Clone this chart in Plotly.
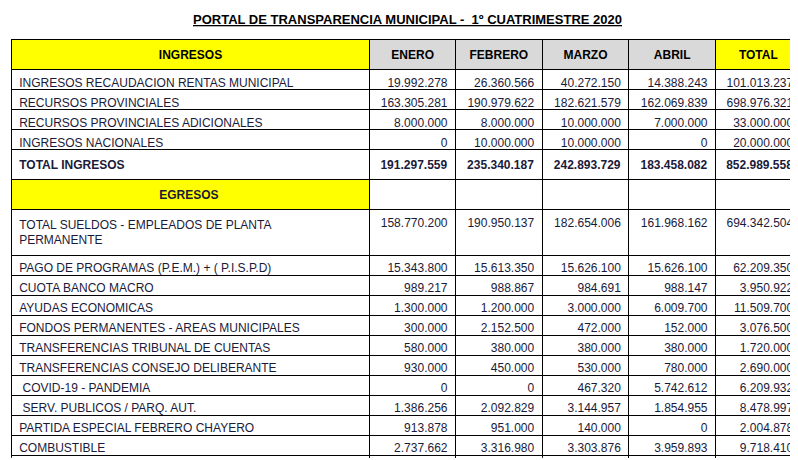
import plotly.graph_objects as go

labels = ["INGRESOS RECAUDACION RENTAS MUNICIPAL", "RECURSOS PROVINCIALES",
          "RECURSOS PROVINCIALES ADICIONALES", "INGRESOS NACIONALES", "<b>TOTAL INGRESOS</b>",
          "<b>                                          EGRESOS</b>",
          "TOTAL SUELDOS - EMPLEADOS DE PLANTA PERMANENTE", "PAGO DE PROGRAMAS (P.E.M.) + ( P.I.S.P.D)",
          "CUOTA BANCO MACRO", "AYUDAS ECONOMICAS", "FONDOS PERMANENTES - AREAS MUNICIPALES",
          "TRANSFERENCIAS TRIBUNAL DE CUENTAS", "TRANSFERENCIAS CONSEJO DELIBERANTE",
          " COVID-19 - PANDEMIA", " SERV. PUBLICOS / PARQ. AUT.", "PARTIDA ESPECIAL FEBRERO CHAYERO",
          "COMBUSTIBLE", "PAGO A PROVEEDORES VARIOS POR EXP.", "<b>TOTAL EGRESOS</b>", "SALDO"]
enero = ["19.992.278", "163.305.281", "8.000.000", "0", "<b>191.297.559</b>", "",
         "158.770.200", "15.343.800", "989.217", "1.300.000", "300.000", "580.000", "930.000",
         "0", "1.386.256", "913.878", "2.737.662", "3.266.350", "<b>186.517.363</b>", "<b>4.780.196</b>"]
febrero = ["26.360.566", "190.979.622", "8.000.000", "10.000.000", "<b>235.340.187</b>", "",
           "190.950.137", "15.613.350", "988.867", "1.200.000", "2.152.500", "380.000", "450.000",
           "0", "2.092.829", "951.000", "3.316.980", "6.620.177", "<b>224.715.839</b>", "<b>10.624.348</b>"]
marzo = ["40.272.150", "182.621.579", "10.000.000", "10.000.000", "<b>242.893.729</b>", "",
         "182.654.006", "15.626.100", "984.691", "3.000.000", "472.000", "380.000", "530.000",
         "467.320", "3.144.957", "140.000", "3.303.876", "13.051.145", "<b>223.754.095</b>", "<b>19.139.634</b>"]
abril = ["14.388.243", "162.069.839", "7.000.000", "0", "<b>183.458.082</b>", "",
         "161.968.162", "15.626.100", "988.147", "6.009.700", "152.000", "380.000", "780.000",
         "5.742.612", "1.854.955", "0", "3.959.893", "17.238.606", "<b>214.700.173</b>", "<b>-31.242.091</b>"]
total = ["101.013.237", "698.976.321", "33.000.000", "20.000.000", "<b>852.989.558</b>", "",
         "694.342.504", "62.209.350", "3.950.922", "11.509.700", "3.076.500", "1.720.000", "2.690.000",
         "6.209.932", "8.478.997", "2.004.878", "9.718.410", "29.776.277", "<b>849.687.470</b>", "<b>3.302.088</b>"]
headers = ["<b>INGRESOS</b>", "<b>ENERO</b>", "<b>FEBRERO</b>", "<b>MARZO</b>", "<b>ABRIL</b>", "<b>TOTAL</b>"]

n = len(labels)
label_fill = ["#ffff00" if i == 5 else "white" for i in range(n)]
white = ["white"] * n
font = dict(family="Liberation Sans, Arial, sans-serif", size=12, color="#1a1a3a")

fig = go.Figure(go.Table(
    columnwidth=[360, 86, 87, 87, 87, 86],
    domain=dict(x=[0.004, 0.994], y=[10 / 460, 430 / 460]),
    header=dict(values=headers, height=20, align="center",
                fill_color=["#ffff00", "#d9d9d9", "#d9d9d9", "#d9d9d9", "#d9d9d9", "#ffff00"],
                line=dict(color="black", width=1), font=dict(font, color="black")),
    cells=dict(values=[labels, enero, febrero, marzo, abril, total], height=20,
               align=["left", "right", "right", "right", "right", "right"],
               fill_color=[label_fill, white, white, white, white, white],
               line=dict(color="black", width=1), font=font),
))
fig.add_annotation(text="<b><u>PORTAL DE TRANSPARENCIA MUNICIPAL -  1º CUATRIMESTRE 2020</u></b>",
                   x=0.5, y=1, xref="paper", yref="paper", yanchor="top", showarrow=False,
                   font=dict(font, color="black", size=13))
fig.update_layout(width=798, height=460, margin=dict(l=0, r=0, t=2, b=0),
                  paper_bgcolor="white")
fig.write_html("out.html")
